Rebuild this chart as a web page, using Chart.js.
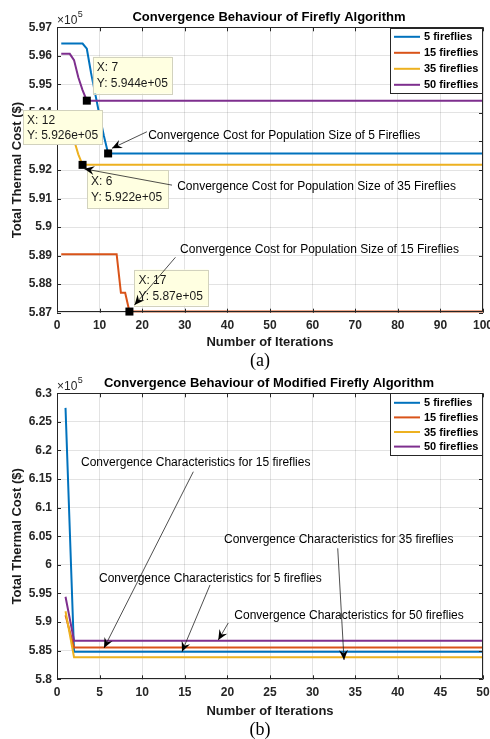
<!DOCTYPE html>
<html><head><meta charset="utf-8">
<script src="https://cdn.jsdelivr.net/npm/chart.js@4.4.1/dist/chart.umd.min.js"></script>
<style>
html,body{margin:0;padding:0;background:#fff;}
#wrap{position:relative;width:490px;height:739px;background:#fff;}
.c{position:absolute;left:0;width:490px;}
canvas{display:block;}
</style></head><body>
<div id="wrap">
<div class="c" style="top:0;height:370px"><canvas id="chartA" width="490" height="370"></canvas></div>
<div class="c" style="top:370px;height:369px"><canvas id="chartB" width="490" height="369"></canvas></div>
</div>
<script>
// ---------- DATA ----------
const seriesLabels = ['5 fireflies', '15 fireflies', '35 fireflies', '50 fireflies'];

// (a) Firefly Algorithm, cost in units of 1e5 $
const iterationsA = [
1,2,3,4,5,6,7,8,9,10,
11,12,13,14,15,16,17,18,19,20,
21,22,23,24,25,26,27,28,29,30,
31,32,33,34,35,36,37,38,39,40,
41,42,43,44,45,46,47,48,49,50,
51,52,53,54,55,56,57,58,59,60,
61,62,63,64,65,66,67,68,69,70,
71,72,73,74,75,76,77,78,79,80,
81,82,83,84,85,86,87,88,89,90,
91,92,93,94,95,96,97,98,99,100];
const faBlue5 = [
5.9643,5.9643,5.9643,5.9643,5.9643,5.9643,5.9625,5.9540,5.9465,5.9390,
5.9320,5.9258,5.9258,5.9258,5.9258,5.9258,5.9258,5.9258,5.9258,5.9258,
5.9258,5.9258,5.9258,5.9258,5.9258,5.9258,5.9258,5.9258,5.9258,5.9258,
5.9258,5.9258,5.9258,5.9258,5.9258,5.9258,5.9258,5.9258,5.9258,5.9258,
5.9258,5.9258,5.9258,5.9258,5.9258,5.9258,5.9258,5.9258,5.9258,5.9258,
5.9258,5.9258,5.9258,5.9258,5.9258,5.9258,5.9258,5.9258,5.9258,5.9258,
5.9258,5.9258,5.9258,5.9258,5.9258,5.9258,5.9258,5.9258,5.9258,5.9258,
5.9258,5.9258,5.9258,5.9258,5.9258,5.9258,5.9258,5.9258,5.9258,5.9258,
5.9258,5.9258,5.9258,5.9258,5.9258,5.9258,5.9258,5.9258,5.9258,5.9258,
5.9258,5.9258,5.9258,5.9258,5.9258,5.9258,5.9258,5.9258,5.9258,5.9258];
const faRed15 = [
5.8905,5.8905,5.8905,5.8905,5.8905,5.8905,5.8905,5.8905,5.8905,5.8905,
5.8905,5.8905,5.8905,5.8905,5.8770,5.8770,5.8704,5.8704,5.8704,5.8704,
5.8704,5.8704,5.8704,5.8704,5.8704,5.8704,5.8704,5.8704,5.8704,5.8704,
5.8704,5.8704,5.8704,5.8704,5.8704,5.8704,5.8704,5.8704,5.8704,5.8704,
5.8704,5.8704,5.8704,5.8704,5.8704,5.8704,5.8704,5.8704,5.8704,5.8704,
5.8704,5.8704,5.8704,5.8704,5.8704,5.8704,5.8704,5.8704,5.8704,5.8704,
5.8704,5.8704,5.8704,5.8704,5.8704,5.8704,5.8704,5.8704,5.8704,5.8704,
5.8704,5.8704,5.8704,5.8704,5.8704,5.8704,5.8704,5.8704,5.8704,5.8704,
5.8704,5.8704,5.8704,5.8704,5.8704,5.8704,5.8704,5.8704,5.8704,5.8704,
5.8704,5.8704,5.8704,5.8704,5.8704,5.8704,5.8704,5.8704,5.8704,5.8704];
const faYellow35 = [
5.9345,5.9345,5.9335,5.9305,5.9255,5.9218,5.9218,5.9218,5.9218,5.9218,
5.9218,5.9218,5.9218,5.9218,5.9218,5.9218,5.9218,5.9218,5.9218,5.9218,
5.9218,5.9218,5.9218,5.9218,5.9218,5.9218,5.9218,5.9218,5.9218,5.9218,
5.9218,5.9218,5.9218,5.9218,5.9218,5.9218,5.9218,5.9218,5.9218,5.9218,
5.9218,5.9218,5.9218,5.9218,5.9218,5.9218,5.9218,5.9218,5.9218,5.9218,
5.9218,5.9218,5.9218,5.9218,5.9218,5.9218,5.9218,5.9218,5.9218,5.9218,
5.9218,5.9218,5.9218,5.9218,5.9218,5.9218,5.9218,5.9218,5.9218,5.9218,
5.9218,5.9218,5.9218,5.9218,5.9218,5.9218,5.9218,5.9218,5.9218,5.9218,
5.9218,5.9218,5.9218,5.9218,5.9218,5.9218,5.9218,5.9218,5.9218,5.9218,
5.9218,5.9218,5.9218,5.9218,5.9218,5.9218,5.9218,5.9218,5.9218,5.9218];
const faPurple50 = [
5.9607,5.9607,5.9607,5.9585,5.9525,5.9480,5.9443,5.9443,5.9443,5.9443,
5.9443,5.9443,5.9443,5.9443,5.9443,5.9443,5.9443,5.9443,5.9443,5.9443,
5.9443,5.9443,5.9443,5.9443,5.9443,5.9443,5.9443,5.9443,5.9443,5.9443,
5.9443,5.9443,5.9443,5.9443,5.9443,5.9443,5.9443,5.9443,5.9443,5.9443,
5.9443,5.9443,5.9443,5.9443,5.9443,5.9443,5.9443,5.9443,5.9443,5.9443,
5.9443,5.9443,5.9443,5.9443,5.9443,5.9443,5.9443,5.9443,5.9443,5.9443,
5.9443,5.9443,5.9443,5.9443,5.9443,5.9443,5.9443,5.9443,5.9443,5.9443,
5.9443,5.9443,5.9443,5.9443,5.9443,5.9443,5.9443,5.9443,5.9443,5.9443,
5.9443,5.9443,5.9443,5.9443,5.9443,5.9443,5.9443,5.9443,5.9443,5.9443,
5.9443,5.9443,5.9443,5.9443,5.9443,5.9443,5.9443,5.9443,5.9443,5.9443];

// (b) Modified Firefly Algorithm, cost in units of 1e5 $
const iterationsB = [
1,2,3,4,5,6,7,8,9,10,
11,12,13,14,15,16,17,18,19,20,
21,22,23,24,25,26,27,28,29,30,
31,32,33,34,35,36,37,38,39,40,
41,42,43,44,45,46,47,48,49,50];
const mfaBlue5 = [
6.2745,5.8483,5.8483,5.8483,5.8483,5.8483,5.8483,5.8483,5.8483,5.8483,
5.8483,5.8483,5.8483,5.8483,5.8483,5.8483,5.8483,5.8483,5.8483,5.8483,
5.8483,5.8483,5.8483,5.8483,5.8483,5.8483,5.8483,5.8483,5.8483,5.8483,
5.8483,5.8483,5.8483,5.8483,5.8483,5.8483,5.8483,5.8483,5.8483,5.8483,
5.8483,5.8483,5.8483,5.8483,5.8483,5.8483,5.8483,5.8483,5.8483,5.8483];
const mfaRed15 = [
5.9120,5.8555,5.8555,5.8555,5.8555,5.8555,5.8555,5.8555,5.8555,5.8555,
5.8555,5.8555,5.8555,5.8555,5.8555,5.8555,5.8555,5.8555,5.8555,5.8555,
5.8555,5.8555,5.8555,5.8555,5.8555,5.8555,5.8555,5.8555,5.8555,5.8555,
5.8555,5.8555,5.8555,5.8555,5.8555,5.8555,5.8555,5.8555,5.8555,5.8555,
5.8555,5.8555,5.8555,5.8555,5.8555,5.8555,5.8555,5.8555,5.8555,5.8555];
const mfaYellow35 = [
5.9190,5.8385,5.8385,5.8385,5.8385,5.8385,5.8385,5.8385,5.8385,5.8385,
5.8385,5.8385,5.8385,5.8385,5.8385,5.8385,5.8385,5.8385,5.8385,5.8385,
5.8385,5.8385,5.8385,5.8385,5.8385,5.8385,5.8385,5.8385,5.8385,5.8385,
5.8385,5.8385,5.8385,5.8385,5.8385,5.8385,5.8385,5.8385,5.8385,5.8385,
5.8385,5.8385,5.8385,5.8385,5.8385,5.8385,5.8385,5.8385,5.8385,5.8385];
const mfaPurple50 = [
5.9444,5.8675,5.8675,5.8675,5.8675,5.8675,5.8675,5.8675,5.8675,5.8675,
5.8675,5.8675,5.8675,5.8675,5.8675,5.8675,5.8675,5.8675,5.8675,5.8675,
5.8675,5.8675,5.8675,5.8675,5.8675,5.8675,5.8675,5.8675,5.8675,5.8675,
5.8675,5.8675,5.8675,5.8675,5.8675,5.8675,5.8675,5.8675,5.8675,5.8675,
5.8675,5.8675,5.8675,5.8675,5.8675,5.8675,5.8675,5.8675,5.8675,5.8675];

// axis ticks
const xTicksA = [0,10,20,30,40,50,60,70,80,90,100];
const yTicksA = [5.87,5.88,5.89,5.90,5.91,5.92,5.93,5.94,5.95,5.96,5.97];
const xTicksB = [0,5,10,15,20,25,30,35,40,45,50];
const yTicksB = [5.80,5.85,5.90,5.95,6.00,6.05,6.10,6.15,6.20,6.25,6.30];

// data tips: [series index, iteration]
const dataTipsA = [[3,7],[0,12],[2,6],[1,17]];

// ---------- STYLE / LAYOUT ----------
const FONT = "'Liberation Sans', Arial, Helvetica, sans-serif";
const COLORS = ['#0072BD', '#D95319', '#EDB120', '#7E2F8E'];
const AX = '#262626';
Chart.defaults.font.family = FONT;

function fmtTip(v) {
  const m = parseFloat((v).toPrecision(4));
  return m + 'e+05';
}

function arrow(ctx, x1, y1, x2, y2) {
  ctx.beginPath(); ctx.moveTo(x1, y1); ctx.lineTo(x2, y2); ctx.stroke();
  const a = Math.atan2(y2 - y1, x2 - x1), L = 10, W = 4.5;
  const c = Math.cos(a), s = Math.sin(a);
  const bx = x2 - L * c, by = y2 - L * s;
  const mx = x2 - 0.65 * L * c, my = y2 - 0.65 * L * s;
  ctx.beginPath();
  ctx.moveTo(x2, y2);
  ctx.lineTo(bx - s * W, by + c * W);
  ctx.lineTo(mx, my);
  ctx.lineTo(bx + s * W, by - c * W);
  ctx.closePath(); ctx.fill();
}

const decor = {
  id: 'decor',
  afterDraw(chart, args, o) {
    const ctx = chart.ctx, ca = chart.chartArea, xs = chart.scales.x, ys = chart.scales.y;
    ctx.save();
    // axes box + inward ticks
    ctx.strokeStyle = AX; ctx.lineWidth = 1;
    ctx.beginPath();
    ctx.rect(Math.round(ca.left) + 0.5, Math.round(ca.top) + 0.5, Math.round(ca.right - ca.left) - 1, Math.round(ca.bottom - ca.top) - 1);
    ctx.stroke();
    const tl = 4;
    ctx.beginPath();
    xs.ticks.forEach(t => {
      const px = Math.round(xs.getPixelForValue(t.value)) + 0.5;
      ctx.moveTo(px, ca.bottom); ctx.lineTo(px, ca.bottom - tl);
      ctx.moveTo(px, ca.top); ctx.lineTo(px, ca.top + tl);
    });
    ys.ticks.forEach(t => {
      const py = Math.round(ys.getPixelForValue(t.value)) + 0.5;
      ctx.moveTo(ca.left, py); ctx.lineTo(ca.left + tl, py);
      ctx.moveTo(ca.right, py); ctx.lineTo(ca.right - tl, py);
    });
    ctx.stroke();

    // title
    ctx.fillStyle = '#000';
    ctx.font = 'bold 13px ' + FONT;
    ctx.textAlign = 'center'; ctx.textBaseline = 'middle';
    ctx.fillText(o.title, (ca.left + ca.right) / 2 - 1, ca.top - 10);
    // exponent
    ctx.fillStyle = AX;
    ctx.textAlign = 'left';
    ctx.font = '12px ' + FONT;
    ctx.fillText('\u00d710', ca.left, ca.top - 7);
    const w10 = ctx.measureText('\u00d710').width;
    ctx.font = '9px ' + FONT;
    ctx.fillText('5', ca.left + w10 + 0.5, ca.top - 12.5);

    // legend
    const lg = o.legend;
    const lx = ca.right - 1 - lg.w, ly = ca.top + lg.dy;
    ctx.fillStyle = '#fff';
    ctx.fillRect(lx, ly, lg.w, lg.h);
    ctx.strokeStyle = AX; ctx.lineWidth = 1;
    ctx.strokeRect(Math.round(lx) + 0.5, Math.round(ly) + 0.5, lg.w, lg.h);
    ctx.font = 'bold 11px ' + FONT;
    ctx.textBaseline = 'middle';
    chart.data.datasets.forEach((ds, i) => {
      const yy = ly + lg.first + i * lg.step;
      ctx.strokeStyle = ds.borderColor; ctx.lineWidth = 2;
      ctx.beginPath(); ctx.moveTo(lx + 4, yy); ctx.lineTo(lx + 30, yy); ctx.stroke();
      ctx.fillStyle = '#000';
      ctx.fillText(ds.label, lx + 34, yy + 0.5);
    });

    // data tips
    (o.tips || []).forEach(t => {
      const ds = chart.data.datasets[t.series];
      const pt = ds.data.find(p => p.x === t.iter);
      const px = xs.getPixelForValue(pt.x), py = ys.getPixelForValue(pt.y);
      const bx = px + t.dx, by = py + t.dy;
      ctx.fillStyle = '#ffffe1';
      ctx.fillRect(bx, by, t.w, t.h);
      ctx.strokeStyle = '#d2d2be'; ctx.lineWidth = 1;
      ctx.strokeRect(Math.round(bx) + 0.5, Math.round(by) + 0.5, t.w, t.h);
      ctx.fillStyle = '#000';
      ctx.fillRect(px - 4, py - 4, 8, 8);
      ctx.fillStyle = '#1a1a1a';
      ctx.font = '12px ' + FONT;
      ctx.textAlign = 'left'; ctx.textBaseline = 'middle';
      ctx.fillText('X: ' + pt.x, bx + 4, by + t.h * 0.31);
      ctx.fillText('Y: ' + fmtTip(pt.y), bx + 4, by + t.h * 0.74);
    });

    // text arrows (on top of data tips)
    ctx.strokeStyle = '#222'; ctx.fillStyle = '#000'; ctx.lineWidth = 0.8;
    ctx.font = '12px ' + FONT;
    ctx.textAlign = 'left'; ctx.textBaseline = 'middle';
    o.notes.forEach(n => {
      ctx.fillText(n.text, xs.getPixelForValue(n.tx), ys.getPixelForValue(n.ty));
      arrow(ctx, xs.getPixelForValue(n.ax), ys.getPixelForValue(n.ay),
                 xs.getPixelForValue(n.bx), ys.getPixelForValue(n.by));
    });

    // caption
    ctx.fillStyle = '#000';
    ctx.font = '18px "Liberation Serif", "Times New Roman", serif';
    ctx.textAlign = 'center'; ctx.textBaseline = 'middle';
    ctx.fillText(o.caption, 260, chart.height - o.capUp);
    ctx.restore();
  }
};

function buildDatasets(iters, arrays) {
  return arrays.map((vals, i) => ({
    label: seriesLabels[i],
    data: iters.map((x, k) => ({ x: x, y: vals[k] })),
    borderColor: COLORS[i],
    backgroundColor: COLORS[i],
    borderWidth: 2,
    pointRadius: 0,
    tension: 0,
    fill: false,
    order: 4 - i
  }));
}

function makeChart(id, cfg) {
  const fmt = v => String(parseFloat(Number(v).toFixed(2)));
  return new Chart(document.getElementById(id), {
    type: 'line',
    data: { datasets: buildDatasets(cfg.iters, cfg.series) },
    options: {
      responsive: false,
      animation: false,
      events: [],
      layout: { padding: { left: 0, right: 7, top: cfg.padTop, bottom: 20 } },
      scales: {
        x: {
          type: 'linear', min: cfg.xTicks[0], max: cfg.xTicks[cfg.xTicks.length - 1],
          afterBuildTicks: s => { s.ticks = cfg.xTicks.map(v => ({ value: v })); },
          ticks: { callback: fmt, color: AX, font: { size: 12, weight: 'bold' }, padding: 6, maxRotation: 0, autoSkip: false },
          grid: { color: 'rgba(38,38,38,0.13)', lineWidth: 1, drawTicks: false },
          border: { display: false },
          title: { display: true, text: 'Number of Iterations', color: '#1a1a1a', font: { size: 13, weight: 'bold' }, padding: { top: 0, bottom: 0 } },
          afterFit: s => { s.height = cfg.xAxisH; s.paddingLeft = 0; s.paddingRight = 0; }
        },
        y: {
          type: 'linear', min: cfg.yTicks[0], max: cfg.yTicks[cfg.yTicks.length - 1],
          afterBuildTicks: s => { s.ticks = cfg.yTicks.map(v => ({ value: v })); },
          ticks: { callback: fmt, color: AX, font: { size: 12, weight: 'bold' }, padding: 5, autoSkip: false },
          grid: { color: 'rgba(38,38,38,0.13)', lineWidth: 1, drawTicks: false },
          border: { display: false },
          title: { display: true, text: 'Total Thermal Cost ($)', color: '#1a1a1a', font: { size: 13, weight: 'bold' }, padding: { top: 9.5, bottom: 0 } },
          afterFit: s => { s.width = 57; s.paddingTop = 0; s.paddingBottom = 0; }
        }
      },
      plugins: {
        legend: { display: false },
        title: { display: false },
        tooltip: { enabled: false },
        decor: cfg.decor
      }
    },
    plugins: [decor]
  });
}

makeChart('chartA', {
  iters: iterationsA,
  series: [faBlue5, faRed15, faYellow35, faPurple50],
  xTicks: xTicksA, yTicks: yTicksA,
  padTop: 27.3, xAxisH: 37.3,
  decor: {
    title: 'Convergence Behaviour of Firefly Algorithm',
    legend: { w: 92, h: 65, dy: 1, first: 8.5, step: 16 },
    caption: '(a)', capUp: 9,
    notes: [
      { text: 'Convergence Cost for Population Size of 5 Fireflies', tx: 21.4, ty: 5.9319, ax: 21.1, ay: 5.9334, bx: 12.9, by: 5.9276 },
      { text: 'Convergence Cost for Population Size of 35 Fireflies', tx: 28.2, ty: 5.9140, ax: 27.0, ay: 5.9147, bx: 6.4, by: 5.9204 },
      { text: 'Convergence Cost for Population Size of 15 Fireflies', tx: 28.9, ty: 5.8920, ax: 27.8, ay: 5.8894, bx: 18.2, by: 5.8727 }
    ],
    tips: [
      { series: dataTipsA[0][0], iter: dataTipsA[0][1], dx: 6, dy: -44, w: 79, h: 37 },
      { series: dataTipsA[1][0], iter: dataTipsA[1][1], dx: -85, dy: -43, w: 79, h: 34 },
      { series: dataTipsA[2][0], iter: dataTipsA[2][1], dx: 4.5, dy: 5, w: 81, h: 38 },
      { series: dataTipsA[3][0], iter: dataTipsA[3][1], dx: 5, dy: -42, w: 74, h: 36 }
    ]
  }
});

makeChart('chartB', {
  iters: iterationsB,
  series: [mfaBlue5, mfaRed15, mfaYellow35, mfaPurple50],
  xTicks: xTicksB, yTicks: yTicksB,
  padTop: 23.3, xAxisH: 39.7,
  decor: {
    title: 'Convergence Behaviour of Modified Firefly Algorithm',
    legend: { w: 92, h: 62, dy: 0, first: 9.5, step: 14.6 },
    caption: '(b)', capUp: 9,
    notes: [
      { text: 'Convergence Characteristics for 15 fireflies', tx: 2.82, ty: 6.1781, ax: 16.0, ay: 6.1629, bx: 5.52, by: 5.8547 },
      { text: 'Convergence Characteristics for 35 fireflies', tx: 19.6, ty: 6.0435, ax: 32.95, ay: 6.0290, bx: 33.69, by: 5.8337 },
      { text: 'Convergence Characteristics for 5 fireflies', tx: 4.93, ty: 5.9766, ax: 17.96, ay: 5.9649, bx: 14.67, by: 5.8483 },
      { text: 'Convergence Characteristics for 50 fireflies', tx: 20.81, ty: 5.9107, ax: 20.1, ay: 5.8984, bx: 18.93, by: 5.8687 }
    ],
    tips: []
  }
});
</script>
</body></html>
